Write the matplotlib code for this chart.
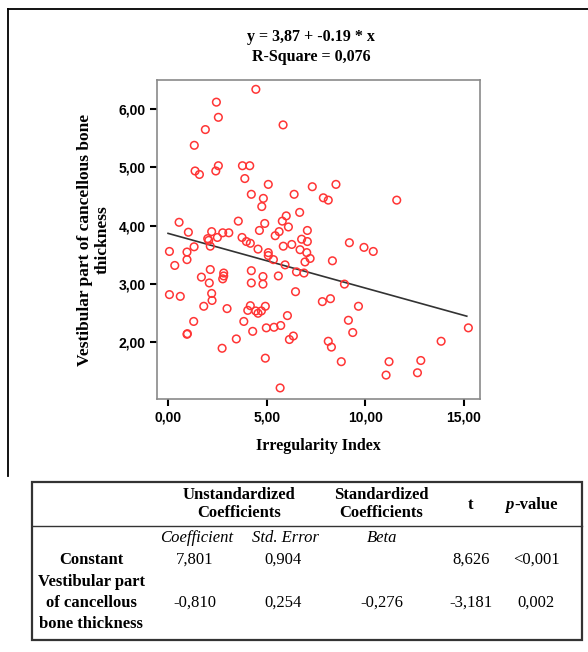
import matplotlib
matplotlib.use("Agg")
import matplotlib.pyplot as plt
from matplotlib.patches import Rectangle
from matplotlib.lines import Line2D

# scatter values
irr_index = [4.45, 2.45, 2.55, 1.89, 1.33, 5.83, 1.37, 1.59, 2.55, 2.42,
             3.77, 4.14, 3.89, 5.08, 6.39, 4.83, 4.75, 4.22, 6.67, 5.99,
             5.79, 6.10, 4.90, 3.56, 0.56, 1.03, 2.21, 2.77, 3.08, 4.63,
             5.63, 5.43, 7.06, 2.50, 2.01, 2.06, 1.32, 2.14, 3.75, 3.97,
             4.17, 4.56, 0.07, 0.96, 0.96, 0.34, 2.14, 1.69, 2.82, 2.82,
             2.77, 2.09, 4.22, 4.81, 4.22, 4.81, 0.07, 0.62, 2.21, 2.23,
             1.81, 2.99, 1.30, 0.96, 0.98, 2.74, 3.46, 3.84, 4.29, 4.17,
             4.04, 4.44, 4.56, 4.73, 4.93, 4.98, 4.93, 5.37, 5.71, 5.68,
             6.05, 6.15, 6.35, 6.46, 5.59, 5.08, 5.08, 5.34, 5.84, 6.27,
             6.77, 6.69, 7.03, 5.93, 6.94, 6.51, 6.89, 7.31, 8.51, 7.87,
             8.12, 11.59, 7.06, 7.20, 9.19, 9.93, 10.40, 8.33, 8.94, 7.82,
             8.23, 9.65, 9.14, 9.36, 8.12, 8.28, 8.78, 11.20, 11.05, 12.81,
             12.64, 13.84, 15.22]
thickness = [6.34, 6.12, 5.86, 5.65, 5.38, 5.73, 4.94, 4.88, 5.03, 4.94,
             5.03, 5.03, 4.81, 4.71, 4.54, 4.47, 4.33, 4.54, 4.23, 4.17,
             4.08, 3.98, 4.04, 4.08, 4.06, 3.89, 3.90, 3.88, 3.88, 3.92,
             3.90, 3.83, 3.92, 3.80, 3.78, 3.75, 3.64, 3.65, 3.80, 3.73,
             3.70, 3.60, 3.56, 3.55, 3.42, 3.32, 3.25, 3.12, 3.19, 3.14,
             3.09, 3.02, 3.23, 3.13, 3.02, 3.00, 2.82, 2.79, 2.84, 2.72,
             2.62, 2.58, 2.36, 2.14, 2.15, 1.90, 2.06, 2.36, 2.19, 2.63,
             2.55, 2.54, 2.50, 2.54, 2.62, 2.25, 1.73, 2.26, 2.29, 1.22,
             2.46, 2.05, 2.11, 2.87, 3.14, 3.54, 3.49, 3.42, 3.65, 3.68,
             3.77, 3.59, 3.54, 3.33, 3.38, 3.21, 3.19, 4.67, 4.71, 4.48,
             4.44, 4.44, 3.73, 3.44, 3.71, 3.63, 3.56, 3.40, 3.00, 2.70,
             2.75, 2.62, 2.38, 2.17, 2.02, 1.92, 1.67, 1.67, 1.44, 1.69,
             1.48, 2.02, 2.25]

# fit line as drawn in the chart
fit_x = [0.0, 15.14]
fit_y = [3.87, 2.45]

x_ticks = [0, 5, 10, 15]
x_ticklabels = ["0,00", "5,00", "10,00", "15,00"]
y_ticks = [2, 3, 4, 5, 6]
y_ticklabels = ["2,00", "3,00", "4,00", "5,00", "6,00"]

eq_text = "y = 3,87 + -0.19 * x\nR-Square = 0,076"

# regression table
row_names = ["Constant", "Vestibular part\nof cancellous\nbone thickness"]
col_coef = ["7,801", "-0,810"]
col_se = ["0,904", "0,254"]
col_beta = ["", "-0,276"]
col_t = ["8,626", "-3,181"]
col_p = ["<0,001", "0,002"]

W, H = 588, 652
serif = "Liberation Serif"
sans = "Liberation Sans"


def fx(px):
    return px / W


def fy(py):
    return 1 - py / H


fig = plt.figure(figsize=(W / 100, H / 100), dpi=100)

# outer frame (only top and left edges visible)
fig.add_artist(Line2D([fx(8), 1.0], [fy(9), fy(9)], color="black", lw=1.3))
fig.add_artist(Line2D([fx(8), fx(8)], [fy(9), fy(476)], color="black", lw=1.3))

ax = fig.add_axes([fx(157), fy(399), fx(480) - fx(157), fy(80) - fy(399)])
ax.scatter(irr_index, thickness, s=30, facecolors="none", edgecolors="#ff3535",
           linewidths=1.1, zorder=3)
ax.plot(fit_x, fit_y, color="#333333", lw=1.2, zorder=2)

ax.set_xlim(-0.56, 15.81)
ax.set_ylim(1.03, 6.5)
ax.set_xticks(x_ticks)
ax.set_xticklabels(x_ticklabels, fontfamily=sans, fontweight="bold", fontsize=10)
ax.set_yticks(y_ticks)
ax.set_yticklabels(y_ticklabels, fontfamily=sans, fontweight="bold", fontsize=10)
ax.tick_params(direction="out", length=5, width=1.5, color="black", pad=3)
for sp in ax.spines.values():
    sp.set_color("#8a8a8a")
    sp.set_linewidth(1.2)

ax.set_xlabel("Irregularity Index", fontfamily=serif, fontweight="bold",
              fontsize=11.5, labelpad=10)
ax.set_ylabel("Vestibular part of cancellous bone\nthickness", fontfamily=serif,
              fontweight="bold", fontsize=12.5, labelpad=6, linespacing=1.1)

fig.text(fx(311), fy(47), eq_text, ha="center", va="center", fontfamily=serif,
         fontweight="bold", fontsize=11.5, linespacing=1.3)

# table
fig.add_artist(Rectangle((fx(32), fy(640)), fx(582) - fx(32), fy(482) - fy(640),
                         fill=False, edgecolor="#333333", lw=1.6))
fig.add_artist(Line2D([fx(32), fx(582)], [fy(526), fy(526)], color="#333333", lw=1.0))

fs = 12
hdr = dict(fontfamily=serif, fontweight="bold", fontsize=fs, ha="center", va="center")
fig.text(fx(239), fy(504), "Unstandardized\nCoefficients", linespacing=1.2, **hdr)
fig.text(fx(381), fy(504), "Standardized\nCoefficients", linespacing=1.2, **hdr)
fig.text(fx(470), fy(505), "t", **hdr)
fig.text(fx(505), fy(505), "p", fontfamily=serif, fontweight="bold", fontstyle="italic",
         fontsize=fs, ha="left", va="center")
fig.text(fx(514), fy(505), "-value", fontfamily=serif, fontweight="bold",
         fontsize=fs, ha="left", va="center")

sub = dict(fontfamily=serif, fontstyle="italic", fontsize=fs, ha="center", va="center")
fig.text(fx(197), fy(538), "Coefficient", **sub)
fig.text(fx(286), fy(538), "Std. Error", **sub)
fig.text(fx(382), fy(538), "Beta", **sub)

row_y = [560, 603]
col_x = [195, 283, 382, 471, 536]
for i, name in enumerate(row_names):
    fig.text(fx(91), fy(row_y[i]), name, fontfamily=serif, fontweight="bold",
             fontsize=fs, ha="center", va="center", linespacing=1.4)
    vals = [col_coef[i], col_se[i], col_beta[i], col_t[i], col_p[i]]
    for x, v in zip(col_x, vals):
        fig.text(fx(x), fy(row_y[i]), v, fontfamily=serif, fontsize=fs,
                 ha="center", va="center")

fig.savefig("out.png", dpi=100)
